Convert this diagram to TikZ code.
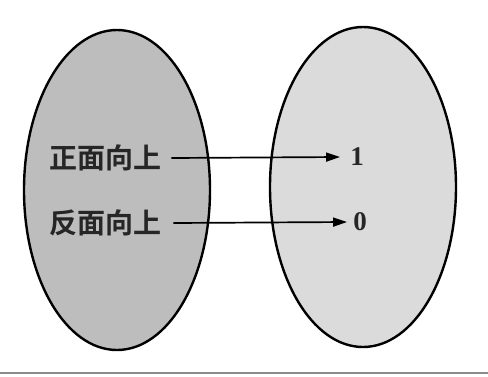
\documentclass[tikz,border=0pt]{standalone}
\usepackage{fontspec}
\setmainfont{Liberation Serif}
\newfontfamily\cjk{Noto Sans CJK SC}[BoldFont={* Bold}]
\usetikzlibrary{arrows.meta,shapes.geometric}
\begin{document}
\begin{tikzpicture}[x=1pt,y=-1pt,
  setshape/.style={ellipse,draw=black,line width=2.4pt,minimum width=186pt,minimum height=320pt,inner sep=0pt},
  lab/.style={font=\cjk\bfseries\fontsize{28}{28}\selectfont,inner sep=0pt,text=black!85},
  num/.style={font=\bfseries\fontsize{27}{27}\selectfont,inner sep=0pt,text=black!85},
  conn/.style={line width=1.7pt,-{Triangle[length=14pt,width=9pt]}}]
\useasboundingbox (0,0) rectangle (488,376);
\fill[white] (0,0) rectangle (488,376);
\draw[black!45,line width=1.2pt] (0,373) -- (488,373);
\node[setshape,fill=black!26] (A) at (117,190) {};
\node[setshape,fill=black!14] (B) at (363,187) {};
\node[lab,anchor=west] (h) at (49,158) {正面向上};
\node[lab,anchor=west] (t) at (49,223) {反面向上};
\node[num] (one) at (357,157) {1};
\node[num] (zero) at (360,222) {0};
\draw[conn] ([xshift=10pt]h.east) -- ([xshift=-10pt]one.west);
\draw[conn] ([xshift=12pt]t.east) -- ([xshift=-6pt]zero.west);
\end{tikzpicture}
\end{document}
